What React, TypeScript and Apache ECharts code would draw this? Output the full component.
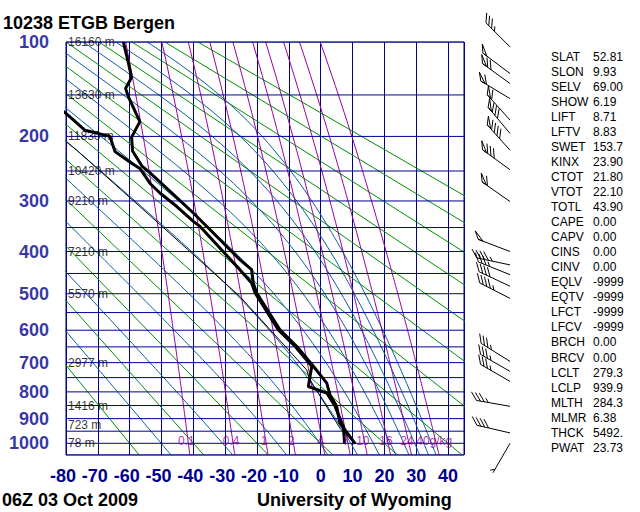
import React, { useEffect, useRef } from "react";
import * as echarts from "echarts";

// ---------- diagram constants ----------
const KAPPA = 0.286;
const P_TOP = 100;
const P_BOT = 1050;
const T_MIN = -80;
const T_MAX = 45;

const ISOBARS = [100, 150, 200, 250, 300, 350, 400, 450, 500, 550, 600, 650, 700, 750, 800, 850, 900, 950, 1000, 1050];
const PRESSURE_LABELS = [100, 200, 300, 400, 500, 600, 700, 800, 900, 1000];
const HEIGHT_LEVELS = [100, 150, 200, 250, 300, 400, 500, 700, 850, 925, 1000];
const HEIGHT_VALUES = [16160, 13630, 11830, 10420, 9210, 7210, 5570, 2977, 1416, 723, 78];
const DRY_ADIABATS_C = [-60, -40, -20, 0, 20, 40, 60, 80, 100, 120, 140, 160, 180];
const THETA_E_K = [223.15, 243.15, 263.15, 283.15, 303.15, 323.15, 343.15, 363.15, 383.15, 403.15, 423.15];
const MIXING_RATIOS = [0.1, 0.4, 1, 2, 4, 7, 10, 16, 24, 40];
const MIXING_LABELS = ["0.1", "0.4", "1", "2", "4", "7", "10", "16", "24", "40g/kg"];

// ---------- sounding ----------
const TEMP_P = [1001, 1000, 917, 853, 810, 769, 712, 649, 599, 498, 473, 441, 418, 351, 322, 286, 253, 242, 220, 201, 181, 152, 143, 132, 118, 100];
const TEMP_C = [10.8, 10.8, 6.0, 5.0, 2.9, 1.9, -2.3, -7.5, -12.8, -20.1, -21.2, -21.7, -25.4, -35.3, -40.0, -46.8, -53.6, -56.2, -59.1, -59.4, -56.8, -60.4, -61.3, -59.4, -60.4, -62.0];
const DEW_P = [1001, 1000, 931, 853, 804, 781, 712, 649, 599, 498, 473, 441, 348, 338, 310, 286, 270, 246, 238, 221, 200, 192, 171, 160];
const DEW_C = [7.5, 7.6, 7.1, 4.5, 1.9, -3.9, -2.8, -8.0, -13.3, -20.6, -21.7, -25.4, -37.9, -40.0, -45.2, -50.5, -53.6, -56.8, -59.4, -64.6, -66.2, -74.0, -80.0, -84.0];
const PARCEL_P = [1001, 940, 757, 724, 507, 344, 219, 207];
const PARCEL_C = [10.8, 6.15, -3.4, -4.4, -25.4, -50.5, -76.6, -80.0];

// ---------- winds ----------
const WIND_P = [104, 128, 138, 154, 179, 196, 219, 248, 301, 400, 430, 453, 481, 512, 696, 729, 763, 853, 957, 1000];
const WIND_DIR = [315, 307, 306, 301, 318, 320, 318, 306, 305, 291, 282, 292, 295, 297, 302, 300, 300, 280, 283, 210];
const WIND_KT = [35, 50, 70, 60, 60, 80, 90, 80, 60, 50, 45, 35, 40, 45, 35, 35, 35, 35, 40, 5];

// ---------- station indices ----------
const INDEX_NAMES = ["SLAT", "SLON", "SELV", "SHOW", "LIFT", "LFTV", "SWET", "KINX", "CTOT", "VTOT", "TOTL", "CAPE", "CAPV", "CINS", "CINV", "EQLV", "EQTV", "LFCT", "LFCV", "BRCH", "BRCV", "LCLT", "LCLP", "MLTH", "MLMR", "THCK", "PWAT"];
const INDEX_VALUES = ["52.81", "9.93", "69.00", "6.19", "8.71", "8.83", "153.7", "23.90", "21.80", "22.10", "43.90", "0.00", "0.00", "0.00", "0.00", "-9999", "-9999", "-9999", "-9999", "0.00", "0.00", "279.3", "939.9", "284.3", "6.38", "5492.", "23.73"];

const TITLE = "10238 ETGB Bergen";
const DATE_TEXT = "06Z 03 Oct 2009";
const SOURCE_TEXT = "University of Wyoming";

// ---------- physics helpers for reference lines ----------
const u = (p: number) => Math.pow(p, KAPPA);
const es = (tc: number) => 6.112 * Math.exp((17.67 * tc) / (tc + 243.5));
function thetaE(tk: number, p: number) {
  const e = es(tk - 273.15);
  if (e > p * 0.5) return 1e9;
  const r = (622 * e) / (p - e);
  return tk * Math.pow(1000 / p, 0.2854 * (1 - 0.00028 * r)) * Math.exp((3.376 / tk - 0.00254) * r * (1 + 0.00081 * r));
}
function moistT(te: number, p: number) {
  let lo = 120, hi = 350;
  for (let i = 0; i < 60; i++) {
    const mid = (lo + hi) / 2;
    if (thetaE(mid, p) > te) hi = mid; else lo = mid;
  }
  return (lo + hi) / 2 - 273.15;
}
function tdFromW(w: number, p: number) {
  const e = (w * p) / (622 + w);
  const l = Math.log(e / 6.112);
  return (243.5 * l) / (17.67 - l);
}

const NAVY = "#000090";
const GREEN = "#008f00";
const BLUE = "#0b5c9e";
const MAGENTA = "#990099";
const FONT = '"Liberation Sans", Arial, sans-serif';

function lineSeries(data: number[][], color: string, width: number, z: number) {
  return {
    type: "line",
    data,
    symbol: "none",
    showSymbol: false,
    silent: true,
    clip: true,
    z,
    lineStyle: { color, width },
  };
}

function barbShape(bx: number, by: number, dirDeg: number, spd: number) {
  const rad = (dirDeg * Math.PI) / 180;
  const dx = Math.sin(rad);
  const dy = -Math.cos(rad);
  const L = 34;
  const tip = [bx + dx * L, by + dy * L];
  const px = -dy, py = dx;
  const fx = (px * 0.76 + dx * 0.65) * 10;
  const fy = (py * 0.76 + dy * 0.65) * 10;
  const style = { stroke: "#000", fill: "none", lineWidth: 1 };
  const children: any[] = [
    { type: "line", shape: { x1: bx, y1: by, x2: tip[0], y2: tip[1] }, style },
  ];
  let rem = Math.round(spd / 5) * 5;
  let pos = 0;
  const at = (d: number) => [tip[0] - dx * d, tip[1] - dy * d];
  while (rem >= 50) {
    const s0 = at(pos), s1 = at(pos + 5);
    children.push({ type: "polygon", shape: { points: [s0, s1, [s0[0] + fx * 0.9, s0[1] + fy * 0.9]] }, style });
    pos += 6.5;
    rem -= 50;
  }
  if (rem > 0 && pos === 0 && rem < 10) pos = 4;
  while (rem >= 10) {
    const s = at(pos);
    children.push({ type: "line", shape: { x1: s[0], y1: s[1], x2: s[0] + fx, y2: s[1] + fy }, style });
    pos += 4;
    rem -= 10;
  }
  if (rem >= 5) {
    const s = at(pos);
    children.push({ type: "line", shape: { x1: s[0], y1: s[1], x2: s[0] + fx * 0.5, y2: s[1] + fy * 0.5 }, style });
  }
  return { type: "group", children };
}

function buildOption() {
  const series: any[] = [];
  const fine: number[] = [];
  for (let p = P_TOP; p <= P_BOT; p += 10) fine.push(p);

  // dry adiabats (straight in this projection)
  DRY_ADIABATS_C.forEach((th) => {
    const tk = th + 273.15;
    const data = [P_TOP, P_BOT].map((p) => [tk * Math.pow(p / 1000, KAPPA) - 273.15, u(p)]);
    series.push(lineSeries(data, GREEN, 1, 2));
  });
  // moist adiabats
  THETA_E_K.forEach((te) => {
    const data = fine.map((p) => [moistT(te, p), u(p)]);
    series.push(lineSeries(data, BLUE, 1, 2));
  });
  // mixing ratio lines
  MIXING_RATIOS.forEach((w) => {
    const data = fine.map((p) => [tdFromW(w, p), u(p)]);
    series.push(lineSeries(data, MAGENTA, 1, 3));
  });
  // isobars
  ISOBARS.forEach((p) => {
    series.push(lineSeries([[T_MIN, u(p)], [T_MAX, u(p)]], NAVY, 1, 4));
  });

  // parcel, dewpoint, temperature
  series.push(lineSeries(PARCEL_P.map((p, i) => [PARCEL_C[i], u(p)]), "#000", 1, 6));
  series.push(lineSeries(DEW_P.map((p, i) => [DEW_C[i], u(p)]), "#000", 3, 7));
  series.push(lineSeries(TEMP_P.map((p, i) => [TEMP_C[i], u(p)]), "#000", 3, 7));

  // pressure labels
  series.push({
    type: "scatter",
    symbolSize: 0,
    silent: true,
    z: 8,
    data: PRESSURE_LABELS.map((p) => [T_MIN, u(p), p]),
    label: {
      show: true,
      position: "left",
      distance: 17,
      formatter: (d: any) => String(d.value[2]),
      color: NAVY,
      fontSize: 18,
      lineHeight: 14,
      fontWeight: "bold",
      fontFamily: FONT,
    },
  });
  // height labels
  series.push({
    type: "scatter",
    symbolSize: 0,
    silent: true,
    z: 8,
    data: HEIGHT_LEVELS.map((p, i) => [T_MIN, u(p), HEIGHT_VALUES[i]]),
    label: {
      show: true,
      position: "right",
      distance: 2,
      formatter: (d: any) => d.value[2] + " m",
      color: "#000",
      fontSize: 12,
      lineHeight: 11,
      fontFamily: FONT,
    },
  });
  // mixing ratio labels
  series.push({
    type: "scatter",
    symbolSize: 0,
    silent: true,
    z: 8,
    data: MIXING_RATIOS.map((w, i) => [tdFromW(w, 1000), u(1000), i]),
    label: {
      show: true,
      position: "inside",
      offset: [-2, -2],
      formatter: (d: any) => MIXING_LABELS[d.value[2]],
      color: MAGENTA,
      fontSize: 12,
      lineHeight: 11,
      fontFamily: FONT,
    },
  });
  // wind barbs
  series.push({
    type: "custom",
    silent: true,
    clip: false,
    z: 8,
    data: WIND_P.map((p, i) => [T_MIN, u(p), WIND_DIR[i], WIND_KT[i]]),
    encode: { x: 0, y: 1 },
    renderItem: (params: any, api: any) => {
      const pt = api.coord([api.value(0), api.value(1)]);
      return barbShape(510, pt[1], api.value(2), api.value(3));
    },
  });

  const graphic: any[] = [
    { type: "text", x: 3, y: 23, style: { text: TITLE, font: `bold 18px ${FONT}`, lineHeight: 16, fill: "#000", verticalAlign: "middle" } },
    { type: "text", x: 2, y: 500, style: { text: DATE_TEXT, font: `bold 18px ${FONT}`, lineHeight: 16, fill: "#000", verticalAlign: "middle" } },
    { type: "text", x: 257, y: 500, style: { text: SOURCE_TEXT, font: `bold 18px ${FONT}`, lineHeight: 16, fill: "#000", verticalAlign: "middle" } },
  ];
  INDEX_NAMES.forEach((n, i) => {
    const y = 56.7 + i * 15.04;
    graphic.push({ type: "text", x: 551, y, style: { text: n, font: `12px ${FONT}`, fill: "#000", verticalAlign: "middle" } });
    graphic.push({ type: "text", x: 593, y, style: { text: INDEX_VALUES[i], font: `12px ${FONT}`, fill: "#000", verticalAlign: "middle" } });
  });

  const axisFont = { color: NAVY, fontSize: 18, fontWeight: "bold", fontFamily: FONT };

  return {
    animation: false,
    backgroundColor: "#fff",
    grid: { left: 66, top: 42, width: 398, height: 413, show: true, borderColor: NAVY, borderWidth: 1, backgroundColor: "transparent" },
    xAxis: {
      type: "value",
      min: T_MIN,
      max: T_MAX,
      interval: 10,
      axisLine: { show: false },
      axisTick: { show: false },
      axisLabel: {
        ...axisFont,
        margin: 12,
        showMaxLabel: false,
        formatter: (v: number) => (v < 0 ? `{n|${v}}` : `${v}`),
        rich: { n: { ...axisFont, padding: [0, 6, 0, 0] } },
      },
      splitLine: { show: true, lineStyle: { color: NAVY, width: 1 } },
    },
    yAxis: {
      type: "value",
      inverse: true,
      min: u(P_TOP),
      max: u(P_BOT),
      axisLine: { show: false },
      axisTick: { show: false },
      axisLabel: { show: false },
      splitLine: { show: false },
    },
    graphic,
    series,
  };
}

export default function App() {
  const ref = useRef<HTMLDivElement>(null);
  useEffect(() => {
    document.body.style.margin = "0";
    if (!ref.current) return;
    const chart = echarts.init(ref.current, undefined, { renderer: "svg" });
    chart.setOption(buildOption() as any);
    return () => chart.dispose();
  }, []);
  return <div ref={ref} style={{ width: 640, height: 512 }} />;
}
